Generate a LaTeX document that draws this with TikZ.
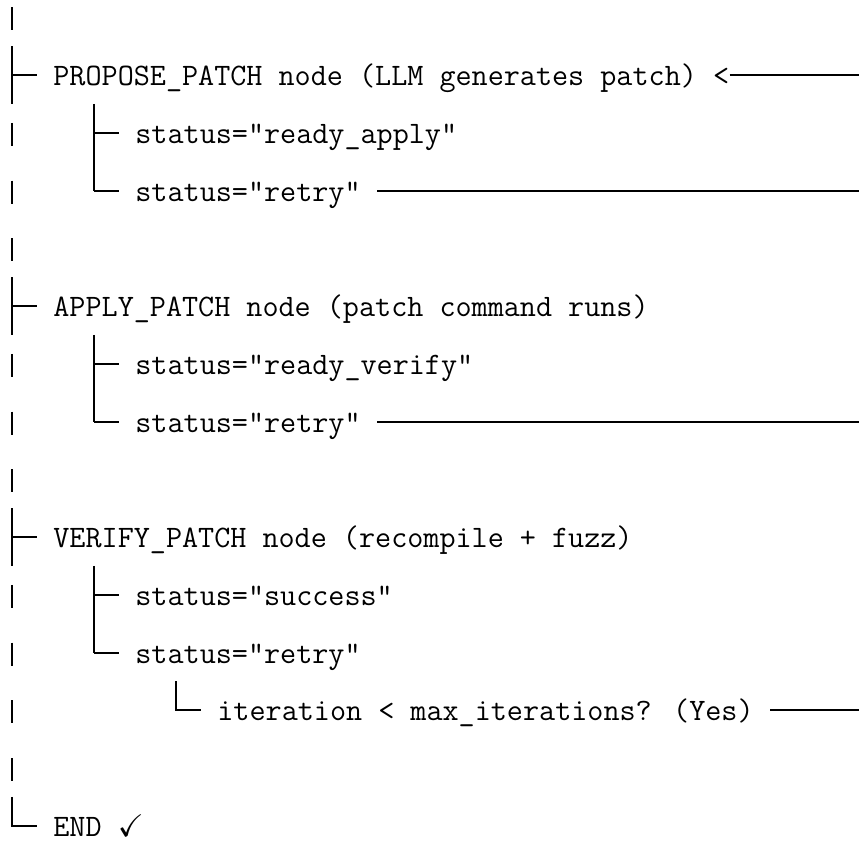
\documentclass[tikz,border=0pt]{standalone}
\usepackage{amssymb}
\newcommand{\us}{\char"5F\relax}
\begin{document}
\begin{tikzpicture}[x=0.5pt,y=-0.5pt,
  treeline/.style={line width=1pt},
  pipe/.style={line width=1pt},
  txt/.style={anchor=base west,inner sep=0pt,
    font=\fontsize{15.62pt}{18pt}\selectfont\ttfamily},
  ]
\useasboundingbox (0,0) rectangle (859,842);

% row centres: 17.25 + (n-1)*57.75 ; baselines 10.5 below

% text lines
\node[txt] (propose) at (53,85.5)   {PROPOSE\us PATCH node (LLM generates patch) <};
\node[txt] (rapply)  at (135,143.25) {status="ready\us apply"};
\node[txt] (retryA)  at (135,201)    {status="retry"};
\node[txt] (apply)   at (53,316.5)   {APPLY\us PATCH node (patch command runs)};
\node[txt] (rverify) at (135,374.25) {status="ready\us verify"};
\node[txt] (retryB)  at (135,432)    {status="retry"};
\node[txt] (verify)  at (53,547.5)   {VERIFY\us PATCH node (recompile + fuzz)};
\node[txt] (success) at (135,605.25) {status="success"};
\node[txt] (retryC)  at (135,663)    {status="retry"};
\node[txt] (iter)    at (217,720.75) {iteration < max\us iterations? (Yes)};
\node[txt] (end)     at (53,836.25)  {END $\checkmark$};

% short bars of the main trunk
\foreach \r in {1,3,4,5,7,8,9,11,12,13,14}
  \draw[pipe] (12,{17.25+(\r-1)*57.75-10}) -- (12,{17.25+(\r-1)*57.75+13});

% main trunk branches
\foreach \y in {75,306,537}{
  \draw[treeline] (12,\y-28.875) -- (12,\y+28.875);
  \draw[treeline] (12,\y) -- (36.6,\y);
}
\draw[treeline] (12,796.875) |- (36.6,825.75);

% second level branches
\foreach \y in {132.75,363.75,594.75}{
  \draw[treeline] (94,\y-28.875) -- (94,\y+57.75);
  \draw[treeline] (94,\y) -- (118.6,\y);
  \draw[treeline] (94,\y+57.75) -- (118.6,\y+57.75);
}

% third level branch
\draw[treeline] (176,681.375) |- (200.6,710.25);

% loop-back lines running off to the right
\coordinate (backIn)  at (859,75);
\coordinate (backA)   at (859,190.5);
\coordinate (backB)   at (859,421.5);
\coordinate (backC)   at (859,710.25);
\coordinate (startA)  at ([xshift=8.2pt]retryA.east);
\coordinate (startB)  at ([xshift=8.2pt]retryB.east);
\coordinate (startC)  at ([xshift=8.2pt]iter.east);
\draw[treeline] (propose.east |- backIn) -- (backIn);
\draw[treeline] (startA |- backA) -- (backA);
\draw[treeline] (startB |- backB) -- (backB);
\draw[treeline] (startC |- backC) -- (backC);
\end{tikzpicture}
\end{document}
